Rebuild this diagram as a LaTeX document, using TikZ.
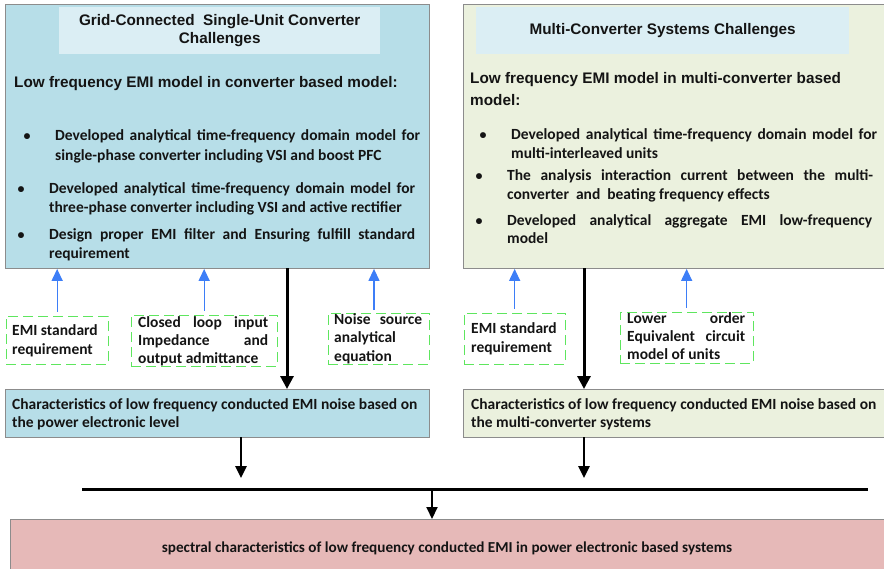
\documentclass[tikz,border=0pt]{standalone}
\usepackage{fontspec}
\setmainfont{Carlito}
\newfontfamily\arialf{Liberation Sans}
\usetikzlibrary{arrows.meta}
\definecolor{bluebox}{HTML}{B7DEE8}
\definecolor{titlebox}{HTML}{DBEEF4}
\definecolor{greenbox}{HTML}{EBF1DE}
\definecolor{redbox}{HTML}{E6B9B8}
\definecolor{dashgreen}{HTML}{5EE65E}
\definecolor{arrowblue}{HTML}{3D7EF7}
\definecolor{boxgray}{HTML}{8C8C8C}
\definecolor{txt}{HTML}{141414}
\newcommand\JLine[2]{\hbox to #1{#2}}
\newcommand\PLine[1]{\hbox{#1}}
\begin{document}
\begin{tikzpicture}[x=1pt,y=-1pt,
  panel/.style={draw=boxgray, line width=0.9pt, anchor=north west, inner sep=0pt},
  titlepanel/.style={fill=titlebox, anchor=north west, inner sep=0pt},
  dashbox/.style={draw=dashgreen, line width=1.3pt, dash pattern=on 10pt off 5pt, anchor=north west, inner sep=0pt},
  body/.style={font=\fontsize{15.5}{19.5}\selectfont\bfseries, text=txt, inner sep=0pt, anchor=base west},
  heading/.style={font=\arialf\bfseries\fontsize{15.3}{18}\selectfont, text=txt, inner sep=0pt},
  bulletmark/.style={font=\fontsize{14}{19.5}\selectfont\bfseries, text=txt, inner sep=0pt, anchor=base},
  feed/.style={draw=arrowblue, line width=1.3pt, -{Triangle[length=12pt,width=11pt]}},
  flow/.style={draw=black, line width=3pt, -{Triangle[length=13pt,width=13pt]}},
  flowthin/.style={draw=black, line width=2.5pt, -{Triangle[length=12pt,width=11pt]}},
]
\useasboundingbox (0,0) rectangle (884,568);

% ---------- left panel ----------
\node[panel, fill=bluebox, minimum width=424pt, minimum height=264pt] (lbox) at (5,4) {};
\node[titlepanel, minimum width=321pt, minimum height=47pt] (ltitle) at (59,7) {};
\node[heading, align=center] (lt) at (ltitle.center) {Grid-Connected\ \ Single-Unit Converter\\Challenges};
\node[heading, anchor=base west] (lh) at (14,87) {Low frequency EMI model in converter based model:};
\node[bulletmark] (lb1) at (27,140.5) {•};
\node[body] (lp1) at (55,140.5) {\vtop{\JLine{365pt}{Developed analytical time-frequency domain model for}\PLine{single-phase converter including VSI and boost PFC}}};
\node[bulletmark] (lb2) at (21,193) {•};
\node[body] (lp2) at (49,193) {\vtop{\JLine{366pt}{Developed analytical time-frequency domain model for}\PLine{three-phase converter including VSI and active rectifier}}};
\node[bulletmark] (lb3) at (21,239) {•};
\node[body] (lp3) at (49,239) {\vtop{\JLine{366pt}{Design proper EMI filter and Ensuring fulfill standard}\PLine{requirement}}};

% ---------- right panel ----------
\node[panel, fill=greenbox, minimum width=424pt, minimum height=264pt] (rbox) at (463,4) {};
\node[titlepanel, minimum width=373pt, minimum height=47pt] (rtitle) at (476,7) {};
\node[heading] (rt) at (rtitle.center) {Multi-Converter Systems Challenges};
\node[heading, anchor=base west, align=left, font=\arialf\bfseries\fontsize{15.3}{22}\selectfont] (rh) at (470,83) {\vtop{\PLine{Low frequency EMI model in multi-converter based}\PLine{model:}}};
\node[bulletmark] (rb1) at (483,139) {•};
\node[body] (rp1) at (511,139) {\vtop{\JLine{366pt}{Developed analytical time-frequency domain model for}\PLine{multi-interleaved units}}};
\node[bulletmark] (rb2) at (479,180) {•};
\node[body] (rp2) at (507,180) {\vtop{\JLine{366pt}{The analysis interaction current between the multi-}\PLine{converter\ \ and\ \ beating frequency effects}}};
\node[bulletmark] (rb3) at (479,225) {•};
\node[body, font=\fontsize{15.5}{18}\selectfont\bfseries] (rp3) at (507,225) {\vtop{\JLine{365pt}{Developed analytical aggregate EMI low-frequency}\PLine{model}}};

% ---------- dashed input boxes ----------
\node[dashbox, minimum width=102pt, minimum height=48pt] (dl1) at (5.5,315.5) {};
\node[body] at (12,335) {\vtop{\PLine{EMI\ standard}\PLine{requirement}}};
\node[dashbox, minimum width=146pt, minimum height=51pt] (dl2) at (130.5,314.5) {};
\node[body, font=\fontsize{15.5}{18}\selectfont\bfseries] at (138,327) {\vtop{\JLine{130pt}{Closed loop input}\JLine{130pt}{Impedance and}\PLine{output admittance}}};
\node[dashbox, minimum width=101pt, minimum height=51pt] (dl3) at (327.5,312.5) {};
\node[body, font=\fontsize{15.5}{18.5}\selectfont\bfseries] at (334,324) {\vtop{\JLine{88pt}{Noise source}\PLine{analytical}\PLine{equation}}};
\node[dashbox, minimum width=101pt, minimum height=51pt] (dr1) at (463.5,312.5) {};
\node[body] at (471,333) {\vtop{\PLine{EMI\ standard}\PLine{requirement}}};
\node[dashbox, minimum width=133pt, minimum height=51pt] (dr2) at (619.5,311.5) {};
\node[body, font=\fontsize{15.5}{18}\selectfont\bfseries] at (627,323) {\vtop{\JLine{118pt}{Lower order}\JLine{118pt}{Equivalent circuit}\PLine{model of units}}};

% ---------- middle result boxes ----------
\node[panel, fill=bluebox, minimum width=424pt, minimum height=48pt] (lmid) at (5,389) {};
\node[body, font=\fontsize{15.5}{18}\selectfont\bfseries] at (12,409) {\vtop{\PLine{Characteristics of low frequency conducted EMI noise based on}\PLine{the power electronic level}}};
\node[panel, fill=greenbox, minimum width=424pt, minimum height=48pt] (rmid) at (463,389) {};
\node[body, font=\fontsize{15.5}{18}\selectfont\bfseries] at (471,409) {\vtop{\PLine{Characteristics of low frequency conducted EMI noise based on}\PLine{the multi-converter systems}}};

% ---------- bottom box ----------
\node[panel, fill=redbox, minimum width=880pt, minimum height=54pt] (bot) at (10,519) {};
\node[font=\fontsize{15.2}{18}\selectfont\bfseries, text=txt, inner sep=0pt, anchor=base] (bt) at (447,552) {spectral characteristics of low frequency conducted EMI in power electronic based systems};

% ---------- blue feed arrows ----------
\foreach \n in {dl1,dl2,dr1,dr2}{
  \draw[feed, shorten <=4pt] (\n.north) -- (\n.north |- lbox.south);
}
\coordinate (f3) at (374,312);
\draw[feed, shorten <=2pt] (f3) -- (f3 |- lbox.south);

% ---------- black flow arrows ----------
\coordinate (la) at (287,268);
\draw[flow] (la) -- (la |- lmid.north);
\coordinate (ra) at (584,268);
\draw[flow] (ra) -- (ra |- rmid.north);

\coordinate (busL) at (82,489);
\coordinate (busR) at (868,489);
\draw[black, line width=3pt] (busL) -- (busR);
\coordinate (lo) at (241,437);
\draw[flowthin] (lo) -- (241,478);
\coordinate (ro) at (584,437);
\draw[flowthin] (ro) -- (584,478);
\coordinate (bm) at (432,489);
\draw[flowthin, line width=2pt] (bm) -- (bm |- bot.north);
\end{tikzpicture}
\end{document}
